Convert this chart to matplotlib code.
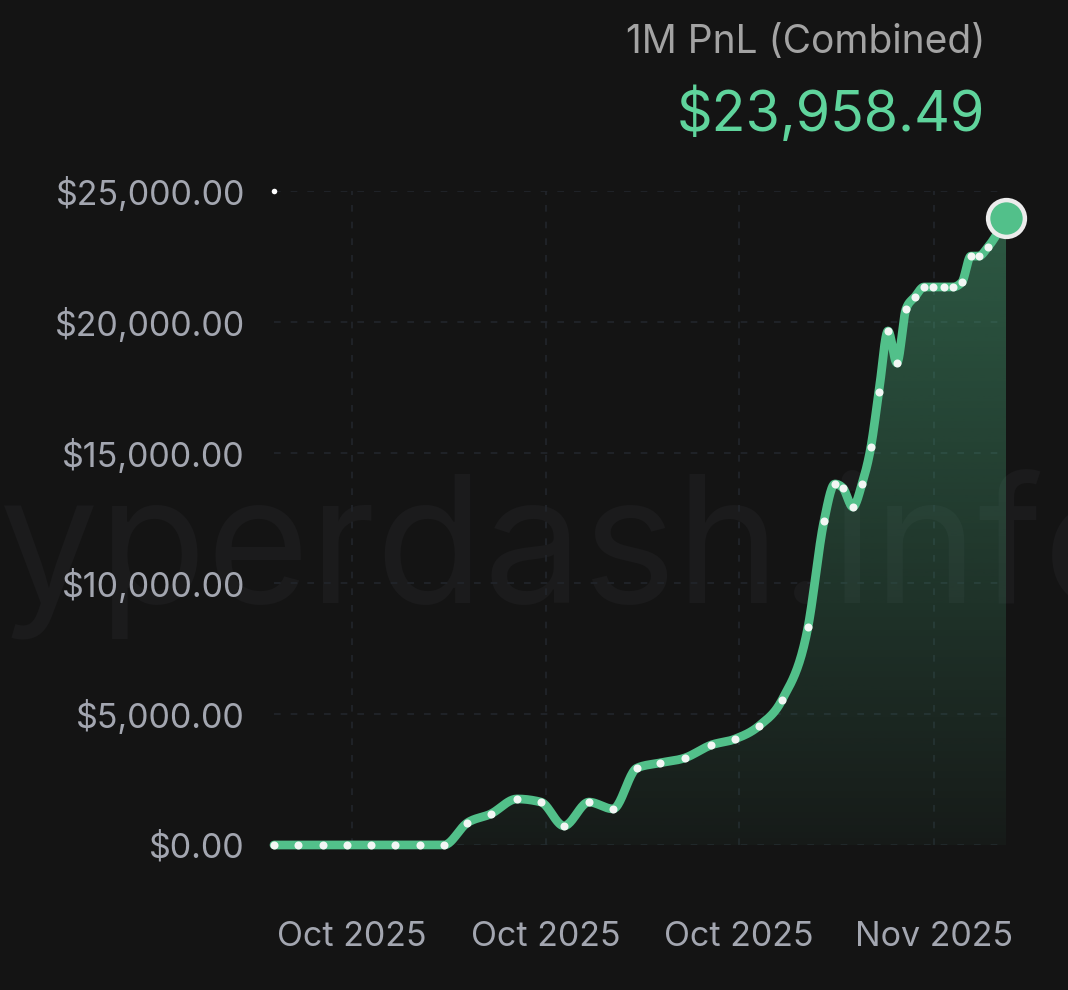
import numpy as np
import matplotlib.pyplot as plt
from matplotlib.path import Path
from matplotlib.patches import PathPatch
from matplotlib.ticker import FuncFormatter

# x position of each sample in days from the first one
days = [0.0, 0.87, 1.77, 2.64, 3.50, 4.37, 5.27, 6.14, 6.97, 7.83,
        8.77, 9.64, 10.47, 11.37, 12.24, 13.10, 13.94, 14.84, 15.78, 16.64,
        17.51, 18.34, 19.28, 19.86, 20.25, 20.54, 20.90, 21.23, 21.55, 21.84,
        22.17, 22.49, 22.82, 23.14, 23.47, 23.79, 24.19, 24.51, 24.84, 25.16,
        25.45, 25.78, 26.43]
pnl = [0, 0, 0, 0, 0, 0, 0, 0, 840, 1190,
       1760, 1640, 730, 1640, 1380, 2940, 3140, 3330, 3820, 4050,
       4550, 5540, 8330, 12390, 13800, 13650, 12920, 13800, 15210, 17320,
       19650, 18430, 20490, 20950, 21330, 21330, 21330, 21330, 21520, 22510,
       22510, 22860, 23958.49]
tick_days = [2.82, 9.82, 16.79, 23.83]
tick_labels = ["Oct 2025", "Oct 2025", "Oct 2025", "Nov 2025"]
y_ticks = [0, 5000, 10000, 15000, 20000, 25000]
title = "1M PnL (Combined)"
watermark = "hyperdash.info"

bg = "#141414"
green = "#52c08a"
fonts = ["Inter", "DejaVu Sans"]
plt.rcParams["font.family"] = fonts


def monotone(x, y, n=24):
    # d3 style monotone-x curve, only for drawing the line smoothly
    x = np.asarray(x, float)
    y = np.asarray(y, float)
    h = np.diff(x)
    s = np.diff(y) / h
    m = np.zeros(len(x))
    for k in range(1, len(x) - 1):
        p = (s[k - 1] * h[k] + s[k] * h[k - 1]) / (h[k - 1] + h[k])
        m[k] = (np.sign(s[k - 1]) + np.sign(s[k])) * min(abs(s[k - 1]), abs(s[k]), 0.5 * abs(p))
    m[0] = (3 * s[0] - m[1]) / 2
    m[-1] = (3 * s[-1] - m[-2]) / 2
    xs, ys = [], []
    for k in range(len(x) - 1):
        t = np.linspace(0, 1, n, endpoint=False)
        h00 = 2 * t**3 - 3 * t**2 + 1
        h10 = t**3 - 2 * t**2 + t
        h01 = -2 * t**3 + 3 * t**2
        h11 = t**3 - t**2
        xs.append(x[k] + t * h[k])
        ys.append(h00 * y[k] + h10 * h[k] * m[k] + h01 * y[k + 1] + h11 * h[k] * m[k + 1])
    xs.append([x[-1]])
    ys.append([y[-1]])
    return np.concatenate(xs), np.concatenate(ys)


fig = plt.figure(figsize=(10.68, 9.9), dpi=100, facecolor=bg)
ax = fig.add_axes([274 / 1068, 1 - 845 / 990, 732 / 1068, 654 / 990])
ax.set_facecolor("none")

# faint watermark behind everything
fig.text(-105 / 1068, 1 - 603 / 990, watermark, fontsize=127, color="#1b1b1c",
         ha="left", va="baseline", zorder=-5)

xs, ys = monotone(days, pnl)

# gradient fill under the curve
verts = np.column_stack([np.r_[xs, xs[-1], xs[0]], np.r_[ys, 0, 0]])
patch = PathPatch(Path(verts), facecolor="none", edgecolor="none")
ax.add_patch(patch)
grad = np.zeros((256, 1, 4))
grad[..., :3] = np.array([82, 192, 138]) / 255
grad[:, 0, 3] = np.linspace(0.04, 0.42, 256)
img = ax.imshow(grad, extent=[days[0], days[-1], 0, y_ticks[-1]], origin="lower",
                aspect="auto", zorder=1)
img.set_clip_path(patch)

ax.plot(xs, ys, color=green, lw=6.3, solid_capstyle="round", solid_joinstyle="round",
        clip_on=False, zorder=3)
ax.plot(days[:-1], pnl[:-1], "o", ms=5.8, mew=0, color="#f2f6f4", clip_on=False, zorder=4)
ax.plot(days[-1], pnl[-1], "o", ms=26.5, mfc=green, mec="#ececec", mew=3.2, clip_on=False, zorder=5)
ax.plot(days[0], y_ticks[-1], "o", ms=4, mew=0, color="white", clip_on=False, zorder=4)

ax.set_xlim(days[0], days[-1])
ax.set_ylim(y_ticks[0], y_ticks[-1])
ax.set_yticks(y_ticks)
ax.yaxis.set_major_formatter(FuncFormatter(lambda v, p: f"${v:,.2f}"))
ax.set_xticks(tick_days)
ax.set_xticklabels(tick_labels)
ax.tick_params(axis="both", length=0, labelsize=24.5, labelcolor="#a3a6b0")
ax.tick_params(axis="y", pad=21)
ax.tick_params(axis="x", pad=55)
for sp in ax.spines.values():
    sp.set_visible(False)
ax.grid(True, color="#22252b", lw=1.2, linestyle=(0, (4, 6)), zorder=0)
ax.set_axisbelow(True)

fig.text(985 / 1068, 1 - 53 / 990, title, fontsize=28, color="#a3a3a3",
         ha="right", va="baseline")
fig.text(985 / 1068, 1 - 131 / 990, f"${pnl[-1]:,.2f}", fontsize=40, color="#5fd49c",
         ha="right", va="baseline")

fig.savefig("out.png", dpi=100, facecolor=bg)
